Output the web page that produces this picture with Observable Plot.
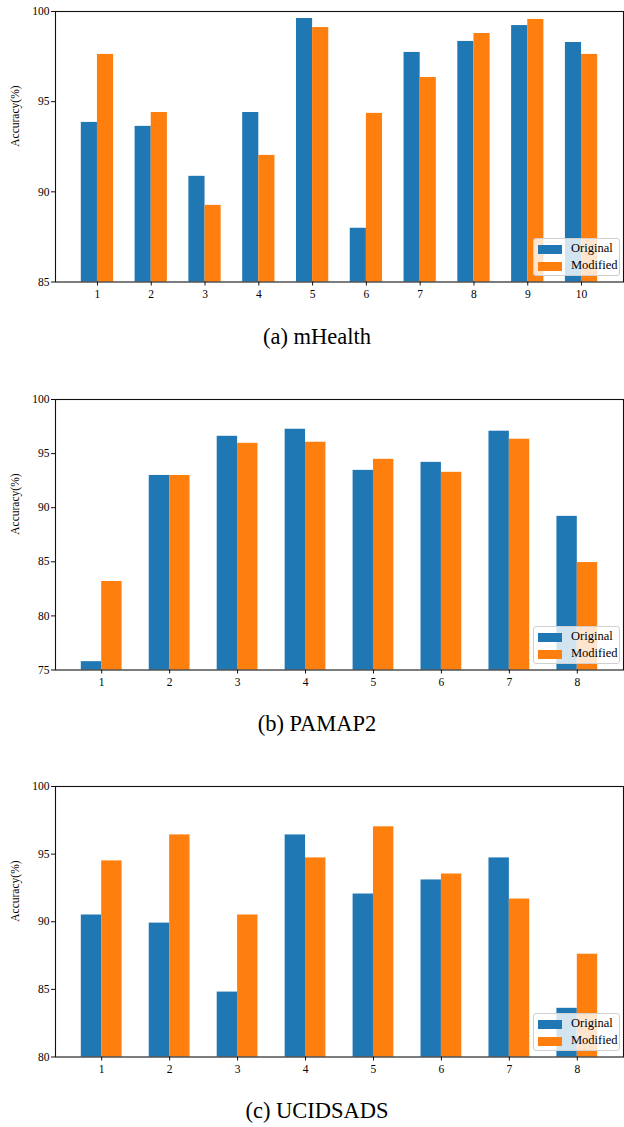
<!DOCTYPE html>
<html>
<head>
<meta charset="utf-8">
<script src="https://cdn.jsdelivr.net/npm/d3@7"></script>
<script src="https://cdn.jsdelivr.net/npm/@observablehq/plot@0.6"></script>
<style>
  body { margin: 0; background: #fff; width: 624px; height: 1127px; position: relative; overflow: hidden; }
  .panel { position: absolute; left: 0; }
  .caption { position: absolute; width: 634px; left: 0; text-align: center; font-family: "Liberation Serif", "Times New Roman", serif; font-size: 22.5px; color: #000; }
  .legend { position: absolute; left: 533px; width: 87px; height: 38px; box-sizing: border-box; border: 1px solid #d0d0d0; border-radius: 3px; background: rgba(255,255,255,0.8); font-family: "Liberation Serif", "Times New Roman", serif; font-size: 12.5px; color: #000; }
  .legend .row { position: absolute; left: 4px; height: 12px; }
  .legend .sw { position: absolute; left: 0; top: 1px; width: 24px; height: 9px; }
  .legend .lab { position: absolute; left: 33px; top: -3px; white-space: nowrap; }
</style>
</head>
<body>
<div id="root"></div>
<script>
// ---- Data ----
const seriesNames = ["Original", "Modified"];
const seriesColors = ["#1f77b4", "#ff7f0e"];

const mhealthCats = [1, 2, 3, 4, 5, 6, 7, 8, 9, 10];
const mhealthOriginal = [93.85, 93.63, 90.86, 94.40, 99.61, 87.98, 97.73, 98.34, 99.22, 98.28];
const mhealthModified = [97.62, 94.40, 89.25, 92.02, 99.11, 94.35, 96.34, 98.78, 99.56, 97.62];
const mhealthTicks = [85, 90, 95, 100];

const pamapCats = [1, 2, 3, 4, 5, 6, 7, 8];
const pamapOriginal = [75.77, 92.98, 96.60, 97.25, 93.45, 94.19, 97.07, 89.20];
const pamapModified = [83.18, 92.98, 95.95, 96.05, 94.47, 93.27, 96.33, 84.93];
const pamapTicks = [75, 80, 85, 90, 95, 100];

const ucidCats = [1, 2, 3, 4, 5, 6, 7, 8];
const ucidOriginal = [90.50, 89.90, 84.80, 96.42, 92.05, 93.09, 94.72, 83.60];
const ucidModified = [94.50, 96.42, 90.50, 94.72, 97.02, 93.53, 91.68, 87.60];
const ucidTicks = [80, 85, 90, 95, 100];

const captions = ["(a) mHealth", "(b) PAMAP2", "(c) UCIDSADS"];

// ---- Drawing ----
const FONT = '"Liberation Serif", "Times New Roman", serif';
const barW = 0.3;

function panel(cats, orig, mod, ticks, top, caption, captionY) {
  const rows = [];
  cats.forEach((c, i) => {
    rows.push({cat: c, series: seriesNames[0], value: orig[i], x1: c - barW, x2: c});
    rows.push({cat: c, series: seriesNames[1], value: mod[i], x1: c, x2: c + barW});
  });
  const lo = cats[0] - barW, hi = cats[cats.length - 1] + barW;
  const pad = (hi - lo) * 0.05;
  const ymin = ticks[0], ymax = ticks[ticks.length - 1];
  const frameH = 270.5;
  const plot = Plot.plot({
    width: 624,
    height: 11 + frameH + 30,
    marginTop: 11,
    marginBottom: 30,
    marginLeft: 55,
    marginRight: 1,
    style: {fontFamily: FONT, fontSize: "11.5px", color: "#000", background: "#fff"},
    x: {type: "linear", domain: [lo - pad, hi + pad], ticks: cats, tickFormat: d => String(d), label: null},
    y: {domain: [ymin, ymax], ticks: ticks, tickFormat: d => String(d), label: null},
    color: {domain: seriesNames, range: seriesColors},
    marks: [
      Plot.rect(rows, {x1: "x1", x2: "x2", y1: () => ymin, y2: "value", fill: "series"}),
      Plot.frame({stroke: "#111", strokeWidth: 1.1}),
      Plot.axisX({ticks: cats, tickSize: 4, tickPadding: 4, tickFormat: d => String(d), fontSize: 11.5, label: null, stroke: "#111"}),
      Plot.axisY({ticks: ticks, tickSize: 4, tickPadding: 2, tickFormat: d => String(d), fontSize: 11.5, label: null, stroke: "#111"}),
      Plot.text(["Accuracy(%)"], {frameAnchor: "left", dx: -40, rotate: -90, text: d => d, fontSize: 11.5, fill: "#000"})
    ]
  });
  plot.classList.add("panel");
  plot.style.top = top + "px";
  document.body.appendChild(plot);

  const cap = document.createElement("div");
  cap.className = "caption";
  cap.textContent = caption;
  cap.style.top = (captionY - 14) + "px";
  document.body.appendChild(cap);

  const lg = document.createElement("div");
  lg.className = "legend";
  lg.style.top = (top + 11 + frameH - 5.5 - 38) + "px";
  seriesNames.forEach((s, i) => {
    const r = document.createElement("div");
    r.className = "row";
    r.style.top = (5 + i * 17) + "px";
    r.innerHTML = `<div class="sw" style="background:${seriesColors[i]}"></div><div class="lab">${s}</div>`;
    lg.appendChild(r);
  });
  document.body.appendChild(lg);
}

panel(mhealthCats, mhealthOriginal, mhealthModified, mhealthTicks, 0, captions[0], 338);
panel(pamapCats, pamapOriginal, pamapModified, pamapTicks, 387.5, captions[1], 725);
panel(ucidCats, ucidOriginal, ucidModified, ucidTicks, 775, captions[2], 1112);
</script>
</body>
</html>
